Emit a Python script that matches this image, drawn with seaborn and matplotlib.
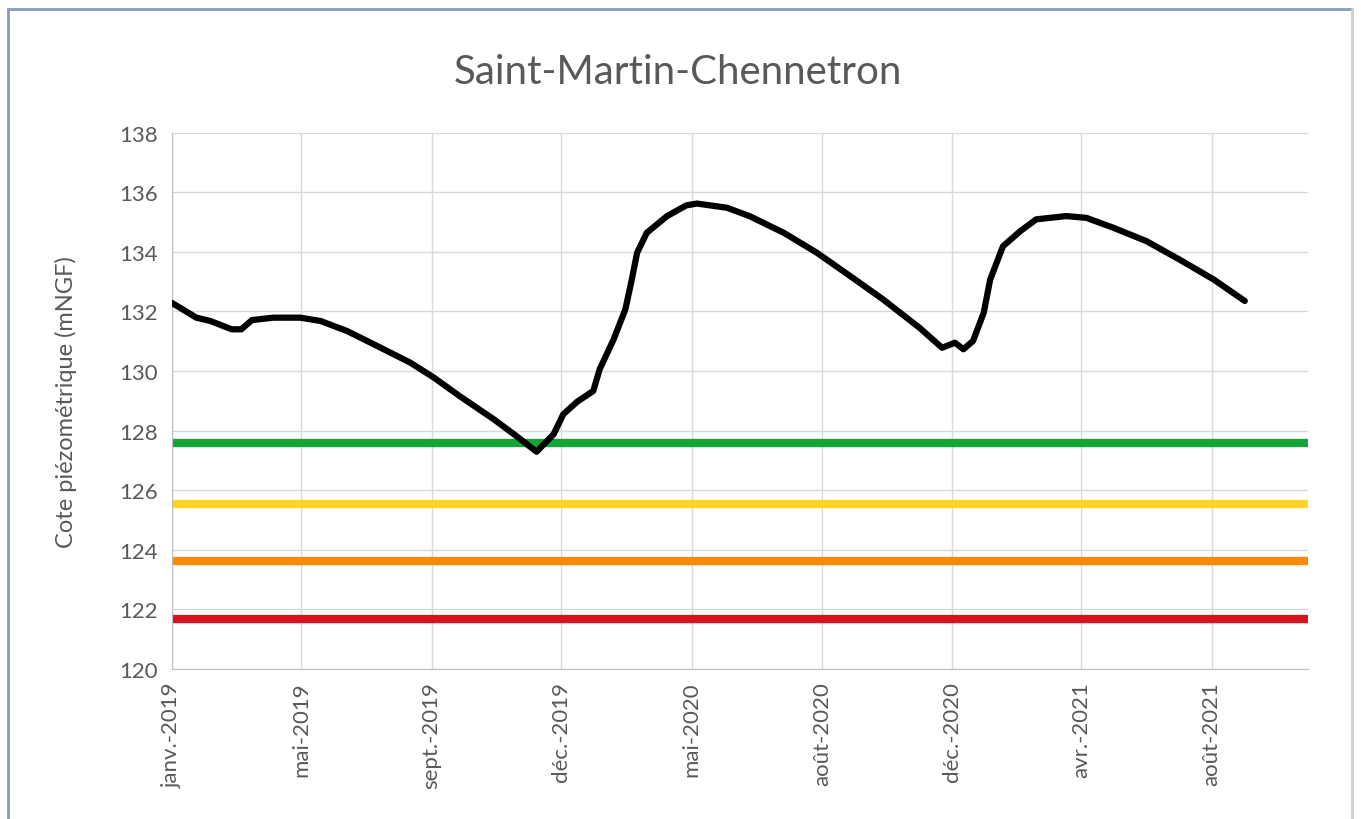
import pandas as pd
import seaborn as sns
import matplotlib.pyplot as plt
from matplotlib.lines import Line2D

# Piezometric level (days since 2019-01-01, mNGF)
days = [0, 23, 36, 56, 65, 75, 95, 120, 139, 164, 192, 223, 245, 269, 301, 322,
        341, 357, 366, 379, 394, 400, 413, 424, 430, 435, 444, 463, 481, 491,
        519, 540, 572, 603, 634, 665, 699, 720, 732, 740, 749, 759, 765, 777,
        793, 808, 836, 855, 880, 911, 942, 974, 1003]
levels = [132.29, 131.79, 131.68, 131.40, 131.40, 131.71, 131.79, 131.79, 131.68,
          131.34, 130.84, 130.28, 129.78, 129.16, 128.38, 127.82, 127.29, 127.88,
          128.55, 128.97, 129.33, 130.06, 131.06, 132.07, 133.07, 133.97, 134.64,
          135.20, 135.56, 135.62, 135.48, 135.20, 134.64, 133.97, 133.19, 132.40,
          131.45, 130.78, 130.95, 130.73, 131.01, 131.96, 133.07, 134.19, 134.69,
          135.09, 135.20, 135.14, 134.81, 134.36, 133.74, 133.07, 132.35]

# Alert thresholds
seuils = [127.58, 125.53, 123.63, 121.68]
seuil_colors = ['#12a537', '#fdd425', '#fb8a0c', '#d9131d']

tick_dates = ['2019-01-01', '2019-05-02', '2019-09-01', '2019-12-31', '2020-05-01',
              '2020-08-31', '2020-12-30', '2021-04-30', '2021-08-30']
tick_labels = ['janv.-2019', 'mai-2019', 'sept.-2019', 'déc.-2019', 'mai-2020',
               'août-2020', 'déc.-2020', 'avr.-2021', 'août-2021']

start = pd.Timestamp('2019-01-01')
df = pd.DataFrame({'date': start + pd.to_timedelta(days, unit='D'), 'cote': levels})

sns.set_style('white')
plt.rcParams['font.family'] = ['Lato', 'DejaVu Sans']

fig = plt.figure(figsize=(13.61, 8.2), dpi=100)
ax = fig.add_axes([0.1262, 0.183, 0.961 - 0.1262, 0.837 - 0.183])

for s, c in zip(seuils, seuil_colors):
    ax.axhline(s, color=c, lw=6, solid_capstyle='butt', zorder=2)

sns.lineplot(data=df, x='date', y='cote', color='black', lw=4.5, ax=ax, zorder=3)

ax.set_xlim(start, start + pd.Timedelta(days=1062))
ax.set_ylim(120, 138)
ax.set_yticks(range(120, 139, 2))
ax.set_xticks(pd.to_datetime(tick_dates))
ax.set_xticklabels(tick_labels, rotation=90)
ax.tick_params(axis='both', colors='#595959', labelsize=16)
ax.tick_params(axis='x', length=5, color='#bfbfbf', pad=4)
ax.tick_params(axis='y', length=0, pad=10)
ax.grid(True, color='#d9d9d9', lw=1)
ax.set_axisbelow(True)
for side in ['top', 'right']:
    ax.spines[side].set_visible(False)
for side in ['left', 'bottom']:
    ax.spines[side].set_color('#bfbfbf')
ax.set_xlabel('')
ax.set_ylabel('Cote piézométrique (mNGF)', fontsize=17, color='#595959', labelpad=30)

fig.text(0.498, 0.912, 'Saint-Martin-Chennetron', ha='center', va='center',
         fontsize=29, color='#595959')

# chart frame
fig.add_artist(Line2D([8 / 1361, 8 / 1361], [0, 1 - 10 / 820], color='#8a9ab8', lw=2))
fig.add_artist(Line2D([8 / 1361, 1352 / 1361], [1 - 10 / 820, 1 - 10 / 820], color='#8a9ab8', lw=2))
fig.add_artist(Line2D([1352 / 1361, 1352 / 1361], [0, 1 - 10 / 820], color='#d0d0d0', lw=2))

fig.savefig('out.png', dpi=100)
